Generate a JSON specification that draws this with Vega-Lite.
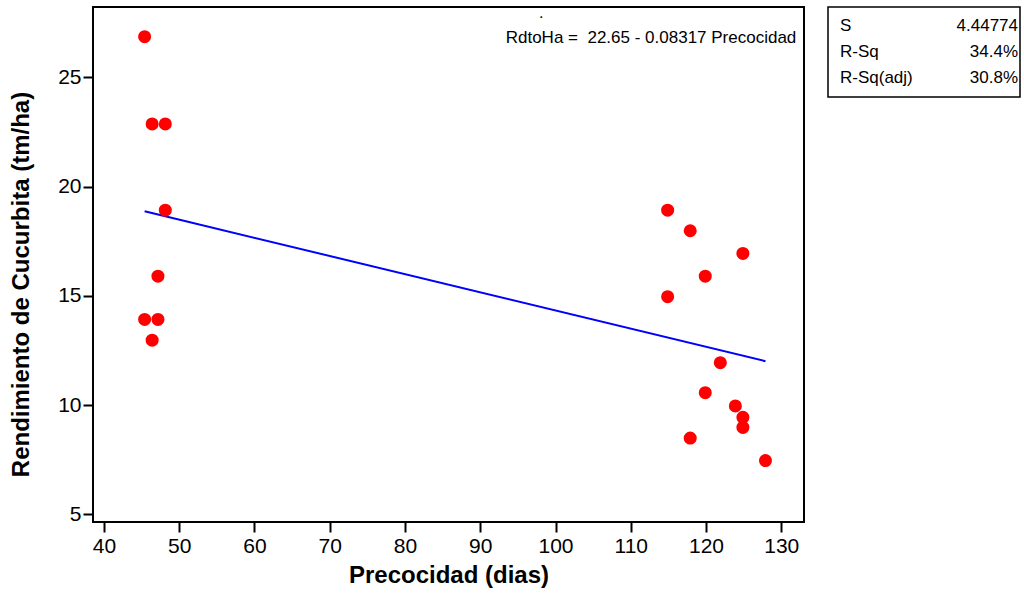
{
  "$schema": "https://vega.github.io/schema/vega-lite/v6.json",
  "background": "white",
  "padding": {"left": 8, "top": 4, "right": 4, "bottom": 2},
  "datasets": {
    "points": [
      {"Precocidad": 45.4, "RdtoHa": 26.86},
      {"Precocidad": 46.4, "RdtoHa": 22.87},
      {"Precocidad": 48.15, "RdtoHa": 22.87},
      {"Precocidad": 48.15, "RdtoHa": 18.92},
      {"Precocidad": 47.17, "RdtoHa": 15.9},
      {"Precocidad": 45.4, "RdtoHa": 13.92},
      {"Precocidad": 47.17, "RdtoHa": 13.92},
      {"Precocidad": 46.4, "RdtoHa": 12.97},
      {"Precocidad": 114.9, "RdtoHa": 18.92},
      {"Precocidad": 117.9, "RdtoHa": 17.98},
      {"Precocidad": 124.9, "RdtoHa": 16.94},
      {"Precocidad": 119.9, "RdtoHa": 15.9},
      {"Precocidad": 114.9, "RdtoHa": 14.96},
      {"Precocidad": 121.9, "RdtoHa": 11.94},
      {"Precocidad": 119.9, "RdtoHa": 10.57},
      {"Precocidad": 123.9, "RdtoHa": 9.96},
      {"Precocidad": 124.9, "RdtoHa": 9.44},
      {"Precocidad": 124.9, "RdtoHa": 8.98},
      {"Precocidad": 117.9, "RdtoHa": 8.49},
      {"Precocidad": 127.9, "RdtoHa": 7.46}
    ],
    "fit": [
      {"Precocidad": 45.4, "RdtoHa": 18.87},
      {"Precocidad": 127.9, "RdtoHa": 12.01}
    ],
    "note": [
      {"label": "RdtoHa =\u00a0 22.65 - 0.08317 Precocidad"}
    ],
    "stats": [
      {"row": 1, "stat": "S", "value": "4.44774"},
      {"row": 2, "stat": "R-Sq", "value": "34.4%"},
      {"row": 3, "stat": "R-Sq(adj)", "value": "30.8%"}
    ]
  },
  "config": {
    "view": {"stroke": "black", "strokeWidth": 2},
    "axis": {"grid": false}
  },
  "spacing": 22,
  "hconcat": [
    {
      "width": 711,
      "height": 515,
      "layer": [
        {
          "data": {"name": "fit"},
          "mark": {"type": "line", "color": "#0000ff", "strokeWidth": 2},
          "encoding": {
            "x": {"field": "Precocidad", "type": "quantitative"},
            "y": {"field": "RdtoHa", "type": "quantitative"}
          }
        },
        {
          "data": {"name": "points"},
          "mark": {"type": "point", "shape": "circle", "filled": true, "color": "#ff0000", "opacity": 1, "size": 170},
          "encoding": {
            "x": {
              "field": "Precocidad", "type": "quantitative",
              "scale": {"domain": [38.54, 133.02], "nice": false, "zero": false},
              "axis": {
                "title": "Precocidad (dias)",
                "values": [40, 50, 60, 70, 80, 90, 100, 110, 120, 130],
                "domain": false,
                "tickColor": "black", "tickWidth": 2, "tickSize": 10,
                "labelFont": "Liberation Sans", "labelFontSize": 21, "labelColor": "black", "labelPadding": 3,
                "titleFont": "Liberation Sans", "titleFontSize": 24, "titleFontWeight": "bold", "titleColor": "black", "titlePadding": 7
              }
            },
            "y": {
              "field": "RdtoHa", "type": "quantitative",
              "scale": {"domain": [4.65, 28.22], "nice": false, "zero": false},
              "axis": {
                "title": "Rendimiento de Cucurbita (tm/ha)",
                "values": [5, 10, 15, 20, 25],
                "domain": false,
                "tickColor": "black", "tickWidth": 2, "tickSize": 10,
                "labelFont": "Liberation Sans", "labelFontSize": 21, "labelColor": "black", "labelPadding": 2,
                "titleFont": "Liberation Sans", "titleFontSize": 24, "titleFontWeight": "bold", "titleColor": "black", "titlePadding": 24,
                "titleY": 277
              }
            }
          }
        },
        {
          "data": {"name": "note"},
          "mark": {"type": "text", "align": "right", "baseline": "middle", "font": "Liberation Sans", "fontSize": 17, "color": "black"},
          "encoding": {
            "x": {"datum": 132.0, "type": "quantitative"},
            "y": {"datum": 26.8, "type": "quantitative"},
            "text": {"field": "label"}
          }
        },
        {
          "data": {"name": "note"},
          "mark": {"type": "text", "text": ".", "align": "center", "baseline": "alphabetic", "font": "Liberation Sans", "fontSize": 16, "color": "black"},
          "encoding": {
            "x": {"datum": 98.1, "type": "quantitative"},
            "y": {"datum": 27.7, "type": "quantitative"}
          }
        }
      ]
    },
    {
      "width": 192,
      "height": 90,
      "view": {"stroke": "black", "strokeWidth": 1.5},
      "data": {"name": "stats"},
      "layer": [
        {
          "mark": {"type": "text", "align": "left", "baseline": "middle", "dx": 12, "font": "Liberation Sans", "fontSize": 17, "color": "black"},
          "encoding": {
            "x": {"datum": 0, "type": "quantitative", "scale": {"domain": [0, 1]}, "axis": null},
            "y": {"field": "row", "type": "ordinal", "scale": {"type": "point", "padding": 0.75}, "axis": null},
            "text": {"field": "stat"}
          }
        },
        {
          "mark": {"type": "text", "align": "right", "baseline": "middle", "dx": -2, "font": "Liberation Sans", "fontSize": 17, "color": "black"},
          "encoding": {
            "x": {"datum": 1, "type": "quantitative"},
            "y": {"field": "row", "type": "ordinal"},
            "text": {"field": "value"}
          }
        }
      ]
    }
  ]
}
